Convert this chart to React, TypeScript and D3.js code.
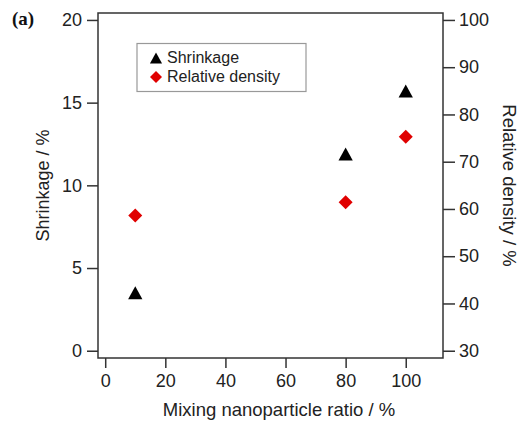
import React, { useEffect, useRef } from 'react';
import * as d3 from 'd3';

// data
const ratios = [10, 80, 100];
const shrinkage = [3.5, 11.9, 15.7];
const relDensity = [58.6, 61.4, 75.3];
const xTicks = [0, 20, 40, 60, 80, 100];
const leftTicks = [0, 5, 10, 15, 20];
const rightTicks = [30, 40, 50, 60, 70, 80, 90, 100];

const W = 523;
const H = 421;
const FONT = '"Liberation Sans", Arial, sans-serif';
const AXIS = '#333';

const App = () => {
    const svgRef = useRef<SVGSVGElement>(null);

    useEffect(() => {
        const svg = d3.select(svgRef.current);
        svg.selectAll('*').remove();

        const frame = { left: 98, right: 443, top: 13, bottom: 358 };

        const x = d3.scaleLinear().domain([-2.4, 112.4]).range([frame.left, frame.right]);
        const yL = d3.scaleLinear().domain([-0.44, 20.42]).range([frame.bottom, frame.top]);
        const yR = d3.scaleLinear().domain([28.46, 101.47]).range([frame.bottom, frame.top]);

        const styleAxis = (g: any) => {
            g.select('.domain').remove();
            g.selectAll('.tick line').attr('stroke', AXIS).attr('stroke-width', 1.5);
            g.selectAll('.tick text')
                .attr('fill', '#222')
                .attr('font-family', FONT)
                .attr('font-size', 18);
        };

        // bottom axis
        svg.append('g')
            .attr('transform', `translate(0,${frame.bottom})`)
            .call(d3.axisBottom(x).tickValues(xTicks).tickSize(10).tickPadding(6).tickFormat(d3.format('d')))
            .call(styleAxis);

        // left axis
        svg.append('g')
            .attr('transform', `translate(${frame.left},0)`)
            .call(d3.axisLeft(yL).tickValues(leftTicks).tickSize(11).tickPadding(5).tickFormat(d3.format('d')))
            .call(styleAxis);

        // right axis
        svg.append('g')
            .attr('transform', `translate(${frame.right},0)`)
            .call(d3.axisRight(yR).tickValues(rightTicks).tickSize(12).tickPadding(4).tickFormat(d3.format('d')))
            .call(styleAxis);

        // frame box
        svg.append('rect')
            .attr('x', frame.left)
            .attr('y', frame.top)
            .attr('width', frame.right - frame.left)
            .attr('height', frame.bottom - frame.top)
            .attr('fill', 'none')
            .attr('stroke', AXIS)
            .attr('stroke-width', 1.5);

        // axis titles
        svg.append('text')
            .attr('x', 279)
            .attr('y', 416)
            .attr('text-anchor', 'middle')
            .attr('font-family', FONT)
            .attr('font-size', 18.5)
            .attr('fill', '#222')
            .text('Mixing nanoparticle ratio / %');

        svg.append('text')
            .attr('transform', `translate(42.5,${(frame.top + frame.bottom) / 2}) rotate(-90)`)
            .attr('text-anchor', 'middle')
            .attr('dominant-baseline', 'central')
            .attr('font-family', FONT)
            .attr('font-size', 18)
            .attr('fill', '#222')
            .text('Shrinkage / %');

        svg.append('text')
            .attr('transform', `translate(509,${(frame.top + frame.bottom) / 2}) rotate(90)`)
            .attr('text-anchor', 'middle')
            .attr('dominant-baseline', 'central')
            .attr('font-family', FONT)
            .attr('font-size', 18.5)
            .attr('fill', '#222')
            .text('Relative density / %');

        // panel label
        svg.append('text')
            .attr('x', 12)
            .attr('y', 25)
            .attr('font-family', '"Liberation Serif", "Times New Roman", serif')
            .attr('font-weight', 'bold')
            .attr('font-size', 19)
            .attr('fill', '#111')
            .text('(a)');

        const tri = (s: number) => `M0,${-s * 0.5}L${s * 0.55},${s * 0.5}L${-s * 0.55},${s * 0.5}Z`;
        const dia = (s: number) => `M0,${-s}L${s},0L0,${s}L${-s},0Z`;

        // shrinkage points
        svg.append('g').selectAll('path')
            .data(ratios.map((r, i) => [r, shrinkage[i]]))
            .enter().append('path')
            .attr('transform', d => `translate(${x(d[0])},${yL(d[1])})`)
            .attr('d', tri(13))
            .attr('fill', '#000');

        // relative density points
        svg.append('g').selectAll('path')
            .data(ratios.map((r, i) => [r, relDensity[i]]))
            .enter().append('path')
            .attr('transform', d => `translate(${x(d[0])},${yR(d[1])})`)
            .attr('d', dia(7))
            .attr('fill', '#e00000');

        // legend
        const lg = svg.append('g');
        lg.append('rect')
            .attr('x', 137).attr('y', 43.5)
            .attr('width', 169).attr('height', 48)
            .attr('fill', '#fff')
            .attr('stroke', '#999')
            .attr('stroke-width', 1.2);
        lg.append('path').attr('transform', 'translate(156,58)').attr('d', tri(11)).attr('fill', '#000');
        lg.append('path').attr('transform', 'translate(156,77)').attr('d', dia(6)).attr('fill', '#e00000');
        lg.append('text')
            .attr('x', 167).attr('y', 63)
            .attr('font-family', FONT).attr('font-size', 16).attr('fill', '#222')
            .text('Shrinkage');
        lg.append('text')
            .attr('x', 167).attr('y', 82)
            .attr('font-family', FONT).attr('font-size', 16).attr('fill', '#222')
            .text('Relative density');
    }, []);

    return (
        <svg ref={svgRef} width={W} height={H}
            style={{ position: 'absolute', left: 0, top: 0, background: '#fff' }} />
    );
};

export default App;
